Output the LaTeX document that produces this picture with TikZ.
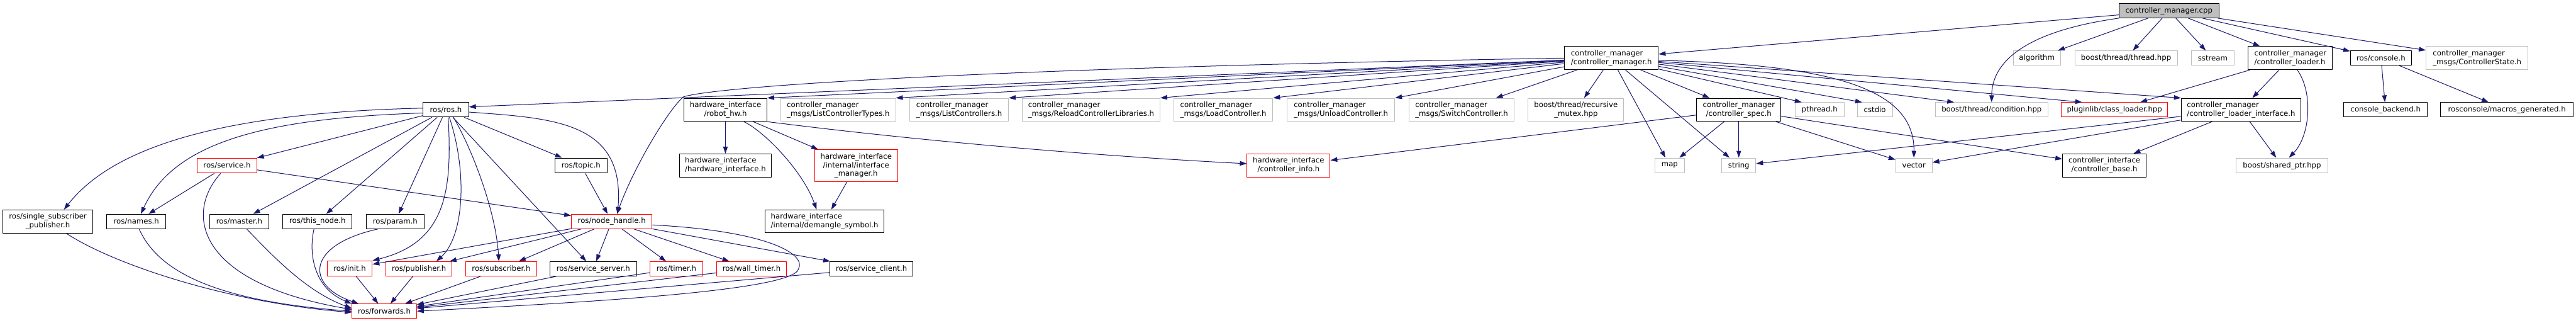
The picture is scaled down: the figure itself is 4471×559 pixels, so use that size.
\documentclass[tikz,border=0pt]{standalone}
\usepackage{fontspec}
\setmainfont{DejaVu Sans}
\usetikzlibrary{arrows.meta}
\definecolor{midnight}{HTML}{191970}
\definecolor{grey75}{HTML}{BFBFBF}
\begin{document}
\begin{tikzpicture}[
			x=1pt, y=-1pt,
			line join=round,
			file/.style={draw, line width=1.1pt, fill=white, inner sep=1pt, align=center,
				font=\fontsize{12.8}{15}\selectfont},
			local/.style={file, draw=black},
			trunc/.style={file, draw=red},
			ext/.style={file, draw=grey75},
			root/.style={file, draw=black, fill=grey75},
			sz/.style 2 args={minimum width=#1, minimum height=#2},
			dep/.style={midnight, line width=1.1pt, -{Triangle[length=12pt,width=8pt]}}
			]
			\fill[white] (0,0) rectangle (4471,559);
			\useasboundingbox (0,0) rectangle (4471,559);
			% files
			\node[root, sz={173}{25}] (cpp) at (3764.5,18.5) {controller\_manager.cpp};
			\node[local, sz={163}{40}, align=left] (cmh) at (2796.8,100.7) {controller\_manager\\/controller\_manager.h};
			\node[ext, sz={82}{25}] (algorithm) at (3535.2,100.7) {algorithm};
			\node[ext, sz={178}{25}] (threadhpp) at (3690,100.7) {boost/thread/thread.hpp};
			\node[ext, sz={75}{25}] (sstream) at (3840.5,100.7) {sstream};
			\node[local, sz={146}{40}, align=left] (loaderh) at (3975.2,100.7) {controller\_manager\\/controller\_loader.h};
			\node[local, sz={106}{25}] (console) at (4132.5,100.7) {ros/console.h};
			\node[ext, sz={177}{40}, align=left] (ctrlstate) at (4299.3,100.7) {controller\_manager\\\_msgs/ControllerState.h};
			
			\node[local, sz={79}{25}] (rosh) at (773.9,190.3) {ros/ros.h};
			\node[local, sz={144}{40}] (robothw) at (1259.2,190.4) {hardware\_interface\\/robot\_hw.h};
			\node[ext, sz={199}{40}, align=left] (listtypes) at (1454.9,190.4) {controller\_manager\\\_msgs/ListControllerTypes.h};
			\node[ext, sz={171}{40}, align=left] (listctrl) at (1664.7,190.4) {controller\_manager\\\_msgs/ListControllers.h};
			\node[ext, sz={239}{40}, align=left] (reload) at (1893.8,190.4) {controller\_manager\\\_msgs/ReloadControllerLibraries.h};
			\node[ext, sz={172}{40}, align=left] (load) at (2123.1,190.4) {controller\_manager\\\_msgs/LoadController.h};
			\node[ext, sz={187}{40}, align=left] (unload) at (2327.3,190.4) {controller\_manager\\\_msgs/UnloadController.h};
			\node[ext, sz={183}{40}, align=left] (switchc) at (2536.8,190.4) {controller\_manager\\\_msgs/SwitchController.h};
			\node[ext, sz={166}{40}] (recmutex) at (2735.3,190.4) {boost/thread/recursive\\\_mutex.hpp};
			\node[local, sz={146}{40}] (spec) at (3017.9,190.4) {controller\_manager\\/controller\_spec.h};
			\node[ext, sz={85}{25}] (pthread) at (3158.1,190.3) {pthread.h};
			\node[ext, sz={61}{25}] (cstdio) at (3254,190.3) {cstdio};
			\node[ext, sz={195}{25}] (condition) at (3456.7,190.3) {boost/thread/condition.hpp};
			\node[trunc, sz={185}{25}] (classloader) at (3670,190.3) {pluginlib/class\_loader.hpp};
			\node[local, sz={208}{40}, align=left] (loaderif) at (3889.7,190.4) {controller\_manager\\/controller\_loader\_interface.h};
			\node[local, sz={145}{25}] (backend) at (4140.5,190.3) {console\_backend.h};
			\node[local, sz={230}{25}] (macros) at (4351,190.3) {rosconsole/macros\_generated.h};
			
			\node[trunc, sz={103}{26}] (service) at (394,287) {ros/service.h};
			\node[local, sz={90}{26}] (topic) at (1008.4,287) {ros/topic.h};
			\node[local, sz={160}{40}, align=left] (hwif) at (1259,286.8) {hardware\_interface\\/hardware\_interface.h};
			\node[trunc, sz={144}{55}] (ifmgr) at (1485.9,287.2) {hardware\_interface\\/internal/interface\\\_manager.h};
			\node[trunc, sz={144}{40}] (ctrlinfo) at (2236.5,286.8) {hardware\_interface\\/controller\_info.h};
			\node[ext, sz={51}{26}] (map) at (2897.9,287) {map};
			\node[ext, sz={59}{26}] (string) at (3017.9,287) {string};
			\node[ext, sz={63}{26}] (vector) at (3321.8,287) {vector};
			\node[local, sz={145}{40}] (ctrlbase) at (3652.4,286.8) {controller\_interface\\/controller\_base.h};
			\node[ext, sz={159}{26}] (sharedptr) at (3960.7,287) {boost/shared\_ptr.hpp};
			
			\node[local, sz={157}{40}] (singlesub) at (83,384) {ros/single\_subscriber\\\_publisher.h};
			\node[local, sz={103}{25}] (names) at (236.5,384) {ros/names.h};
			\node[local, sz={103}{25}] (master) at (415.2,384) {ros/master.h};
			\node[local, sz={120}{25}] (thisnode) at (551,384) {ros/this\_node.h};
			\node[local, sz={100}{25}] (param) at (685.9,384) {ros/param.h};
			\node[trunc, sz={140}{25}] (nodehandle) at (1061.8,384) {ros/node\_handle.h};
			\node[local, sz={207}{40}, align=left] (demangle) at (1431.2,383.8) {hardware\_interface\\/internal/demangle\_symbol.h};
			
			\node[trunc, sz={78}{26}] (init) at (607,465.3) {ros/init.h};
			\node[trunc, sz={115}{25}] (publisher) at (727.2,466.1) {ros/publisher.h};
			\node[trunc, sz={123}{25}] (subscriber) at (869.9,466.1) {ros/subscriber.h};
			\node[local, sz={150}{25}] (srvserver) at (1029.7,466.1) {ros/service\_server.h};
			\node[trunc, sz={91}{25}] (timer) at (1173.9,466.1) {ros/timer.h};
			\node[trunc, sz={122}{25}] (walltimer) at (1304.4,466.1) {ros/wall\_timer.h};
			\node[local, sz={144}{25}] (srvclient) at (1512.5,466.1) {ros/service\_client.h};
			
			\node[trunc, sz={112}{25}] (forwards) at (667,539.5) {ros/forwards.h};
			
			% includes
			\draw[dep] (cpp) -- (cmh);
			\draw[dep] (cpp.south west) .. controls (3510,55) and (3457,110) .. (condition.north);
			\foreach \t in {algorithm,threadhpp,sstream,loaderh,console,ctrlstate}
				\draw[dep] (cpp) -- (\t);
			\foreach \t in {classloader,loaderif}
				\draw[dep] (loaderh) -- (\t);
			\draw[dep] ([xshift=12]loaderh.south) .. controls (4015,160) and (4010,235) .. ([xshift=12]sharedptr.north);
			\foreach \t in {sharedptr,vector,string,ctrlbase}
				\draw[dep] (loaderif) -- (\t);
			\foreach \t in {backend,macros}
				\draw[dep] (console) -- (\t);
			
			\draw[dep] (cmh) -- ([yshift=5]rosh.east);
			\foreach \t in {robothw,listtypes,listctrl,reload,load,unload}
				\draw[dep] (cmh) -- (\t.north east);
			\foreach \t in {switchc,recmutex,spec,map,string}
				\draw[dep] (cmh) -- (\t);
			\draw[dep] (cmh) -- ([xshift=-31]pthread.north);
			\draw[dep] (cmh) -- ([xshift=-22]cstdio.north);
			\draw[dep] (cmh) -- ([xshift=-65]condition.north);
			\draw[dep] (cmh) -- ([xshift=-56]classloader.north);
			\draw[dep] (cmh) -- (loaderif.north west);
			\draw[dep] ([yshift=-4]cmh.east) .. controls (3200,112) and (3323,160) .. (vector.north);
			\draw[dep] (cmh.west) .. controls (1700,118) and (1240,150) .. (1186,168)
				.. controls (1160,190) and (1100,290) .. ([xshift=9]nodehandle.north);
			\foreach \t in {map,string,vector,ctrlinfo,ctrlbase}
				\draw[dep] (spec) -- (\t);
			
			\foreach \t in {hwif,ifmgr}
				\draw[dep] (robothw) -- (\t);
			\draw[dep] (robothw.south east) .. controls (1600,245) and (1900,270) .. ([yshift=3]ctrlinfo.west);
			\draw[dep] ([xshift=32]robothw.south) .. controls (1330,230) and (1395,300) .. ([xshift=-14]demangle.north);
			\draw[dep] (ifmgr) -- (demangle);
			
			\foreach \t in {service,master,thisnode,param,srvserver,topic}
				\draw[dep] (rosh) -- (\t);
			\draw[dep] (rosh.176) .. controls (400,195) and (200,250) .. ([xshift=28]singlesub.north);
			\draw[dep] (rosh.188) .. controls (450,205) and (300,250) .. ([xshift=8]names.north);
			\draw[dep] ([xshift=4]rosh.south) .. controls (785,330) and (775,420) .. (init.north east);
			\draw[dep] ([xshift=6]rosh.south) .. controls (812,300) and (805,410) .. ([xshift=-28]publisher.north east);
			\draw[dep] ([xshift=13]rosh.south) .. controls (815,250) and (860,360) .. ([xshift=-4]subscriber.north);
			\draw[dep] ([yshift=-4]rosh.east) .. controls (960,205) and (1085,210) .. ([xshift=10]nodehandle.north);
			
			\draw[dep] (service) -- (names);
			\draw[dep] (service) -- (nodehandle);
			\draw[dep] (topic) -- (nodehandle);
			\foreach \t in {init,publisher,subscriber,srvserver,timer,walltimer,srvclient}
				\draw[dep] (nodehandle) -- (\t);
			
			\foreach \t in {init,publisher,subscriber,srvserver,timer,walltimer,srvclient}
				\draw[dep] (\t) -- (forwards);
			\draw[dep] ([yshift=-6]nodehandle.east) .. controls (1330,400) and (1400,440) .. (1386,466)
				.. controls (1378,505) and (1000,525) .. (forwards.east);
			\draw[dep] ([xshift=32]singlesub.south) .. controls (200,460) and (400,525) .. ([yshift=-2]forwards.west);
			\draw[dep] ([xshift=5]names.south) .. controls (270,460) and (350,520) .. (forwards.west);
			\draw[dep] ([xshift=-11]service.south) .. controls (320,370) and (340,490) .. ([yshift=3]forwards.west);
			\draw[dep] ([xshift=13]master.south) .. controls (470,440) and (530,505) .. ([yshift=5]forwards.west);
			\draw[dep] ([xshift=-6]thisnode.south) .. controls (535,440) and (545,500) .. (forwards.north west);
			\draw[dep] ([xshift=-30]param.south) .. controls (530,425) and (530,495) .. ([xshift=12]forwards.north west);
		\end{tikzpicture}
\end{document}
